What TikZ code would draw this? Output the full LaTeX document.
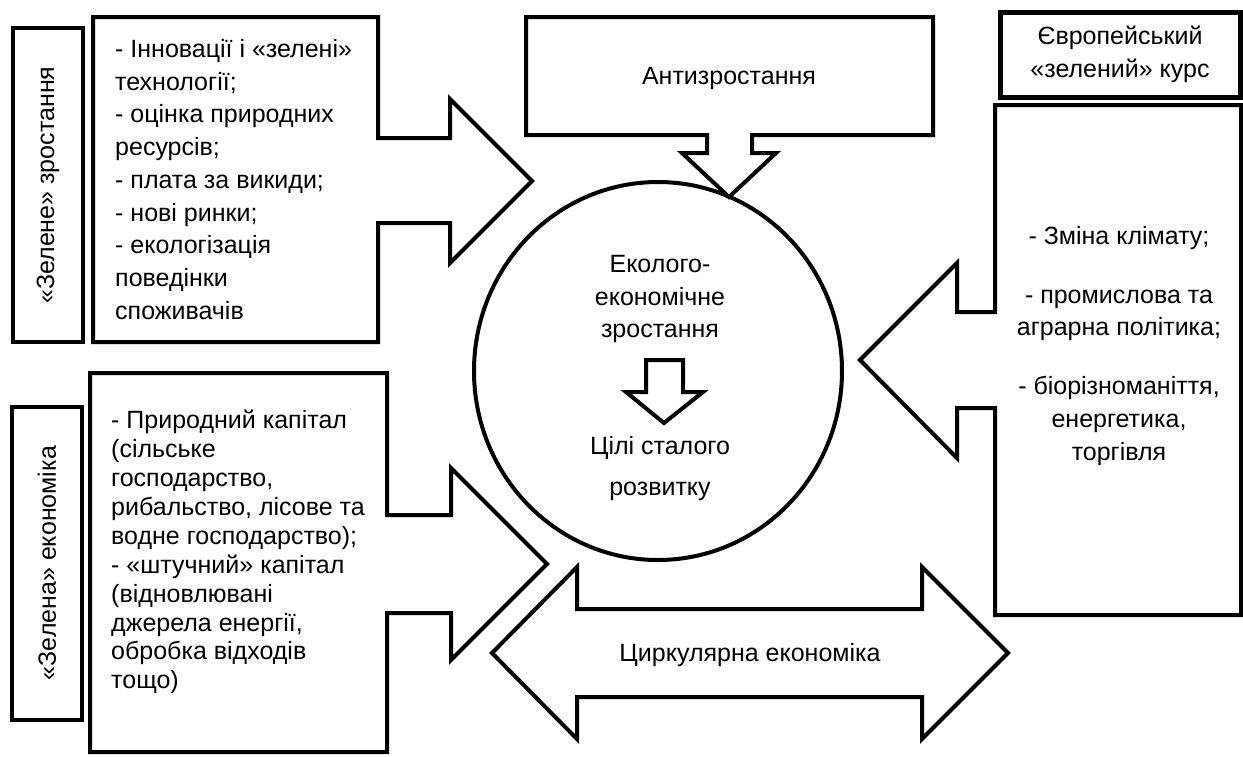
\documentclass[tikz,border=0pt]{standalone}
\usepackage{fontspec}
\setmainfont{Liberation Sans}
\begin{document}
\begin{tikzpicture}[x=1pt,y=-1pt,
  outline/.style={line width=4pt, line join=miter},
  txt/.style={inner sep=0pt, font=\fontsize{25}{32.75}\selectfont},
]
\useasboundingbox (0,0) rectangle (1243,756);
% left top: vertical label box and box with right arrow
\draw[outline] (13,28) rectangle (83,342);
\draw[outline] (93,17) -- (378,17) -- (378,138) -- (450,138) -- (450,99) -- (532,181)
  -- (450,263) -- (450,223) -- (378,223) -- (378,342) -- (93,342) -- cycle;
% left bottom
\draw[outline] (12,407) rectangle (82,720);
\draw[outline] (90,373) -- (387,373) -- (387,515) -- (451,515) -- (451,468) -- (547,564)
  -- (451,660) -- (451,613) -- (387,613) -- (387,752) -- (90,752) -- cycle;
% top centre box with down arrow
\draw[outline] (526,17) -- (933,17) -- (933,135) -- (752,135) -- (752,153) -- (776,153)
  -- (729,197) -- (682,153) -- (707,153) -- (707,135) -- (526,135) -- cycle;
% right boxes
\draw[line width=5pt] (1000,12) rectangle (1240,97);
\draw[outline] (995,105) -- (1241,105) -- (1241,615) -- (995,615) -- (995,408) -- (957,408)
  -- (957,458) -- (860,360) -- (957,263) -- (957,312) -- (995,312) -- cycle;
% double arrow
\draw[outline] (492,653) -- (577,567) -- (577,609) -- (922,609) -- (922,567) -- (1008,653)
  -- (922,739) -- (922,697) -- (577,697) -- (577,739) -- cycle;
% circle
\draw[outline] (658,371) ellipse [x radius=184, y radius=189];
% inner arrow
\draw[outline] (646,360) -- (683,360) -- (683,392) -- (703,392) -- (664,423) -- (626,392)
  -- (646,392) -- cycle;

% texts
\node[txt, rotate=90] (zg) at (48,185) {«Зелене» зростання};
\node[txt, rotate=90] (ze) at (47,563) {«Зелена» економіка};
\node[txt, align=left, anchor=north west] (g1) at (115,39)
  {- Інновації і «зелені»\\ технології;\\ - оцінка природних\\ ресурсів;\\ - плата за викиди;\\ - нові ринки;\\ - екологізація\\ поведінки\\ споживачів};
\node[txt, align=left, anchor=north west, font=\fontsize{25}{28.9}\selectfont] (g2) at (111,410)
  {- Природний капітал\\ (сільське\\ господарство,\\ рибальство, лісове та\\ водне господарство);\\ - «штучний» капітал\\ (відновлювані\\ джерела енергії,\\ обробка відходів\\ тощо)};
\node[txt, anchor=base] (anti) at (729,84) {Антизростання};
\node[txt, align=center, anchor=north] (eu) at (1120,26) {Європейський\\ «зелений» курс};
\node[txt, align=center, anchor=north] (eu2) at (1119,226)
  {- Зміна клімату;\\[26pt] - промислова та\\ аграрна політика;\\[26pt] - біорізноманіття,\\ енергетика,\\ торгівля};
\node[txt, align=center, anchor=north] (c1) at (660,255) {Еколого-\\ економічне\\ зростання};
\node[txt, align=center, anchor=north, font=\fontsize{25}{41}\selectfont] (c2) at (660,436) {Цілі сталого\\ розвитку};
\node[txt, anchor=base] (circ) at (750,661) {Циркулярна економіка};
\end{tikzpicture}
\end{document}
